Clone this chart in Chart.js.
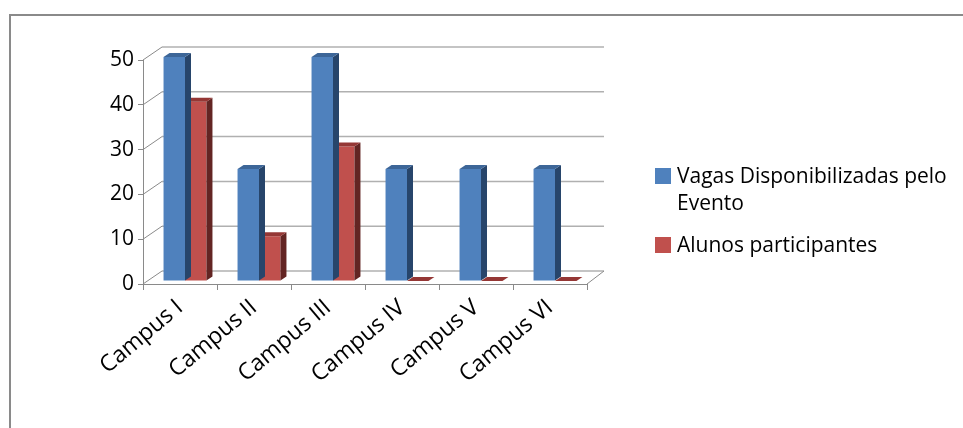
<!DOCTYPE html>
<html>
<head>
<meta charset="utf-8">
<script src="https://cdn.jsdelivr.net/npm/chart.js@4.4.1/dist/chart.umd.min.js"></script>
<style>
    html, body { margin: 0; padding: 0; background: #fff; overflow: hidden; }
    #wrap { position: relative; width: 963px; height: 428px; }
    #legend { position: absolute; left: 655px; top: 162px; font-family: 'Open Sans', sans-serif; font-size: 21px; line-height: 27px; color: #000; }
    .item { position: relative; padding-left: 22px; width: 290px; margin-bottom: 15px; }
    .box { position: absolute; left: 0; top: 6px; width: 16px; height: 16px; }
</style>
</head>
<body>
<div id="wrap">
    <canvas id="barChart" width="963" height="428"></canvas>
    <div id="legend"></div>
</div>
<script>
    var campus = ['Campus I', 'Campus II', 'Campus III', 'Campus IV', 'Campus V', 'Campus VI'];
    var vagas = [50, 25, 50, 25, 25, 25];
    var alunos = [40, 10, 30, 0, 0, 0];
    var yTicks = [0, 10, 20, 30, 40, 50];

    var frontColors = ['#4f81bd', '#c0504d'];
    var sideColors = ['#27456b', '#632523'];
    var topColors = ['#3d6698', '#953735'];

    var shift = {x: 5, y: -3};   // bars stand a little behind the front plane
    var depth = {x: 6, y: -4};   // depth of each bar
    var wall = {x: 19, y: -13};  // back wall offset

    Chart.defaults.font.family = "'Open Sans', sans-serif";
    Chart.defaults.color = '#000';

    // fake 3D: back wall grid, side and top faces of the bars
    var threeD = {
        id: 'threeD',
        beforeDraw: function(chart) {
            var ctx = chart.ctx;
            ctx.save();
            ctx.strokeStyle = '#8a8a8a';
            ctx.lineWidth = 2;
            ctx.beginPath();
            ctx.moveTo(10, 428);
            ctx.lineTo(10, 15);
            ctx.lineTo(963, 15);
            ctx.stroke();
            ctx.restore();
        },
        beforeDatasetsDraw: function(chart) {
            var ctx = chart.ctx, a = chart.chartArea, y = chart.scales.y;
            ctx.save();
            ctx.strokeStyle = '#b0b0b0';
            ctx.lineWidth = 1.5;
            yTicks.forEach(function(v) {
                var py = y.getPixelForValue(v);
                ctx.beginPath();
                ctx.moveTo(a.left + wall.x, py + wall.y);
                ctx.lineTo(a.right + wall.x - 2, py + wall.y);
                ctx.stroke();
            });
            ctx.strokeStyle = '#8a8a8a';
            ctx.lineWidth = 1;
            yTicks.forEach(function(v) {
                var py = y.getPixelForValue(v);
                ctx.beginPath();
                ctx.moveTo(a.left, py);
                ctx.lineTo(a.left + wall.x, py + wall.y);
                ctx.stroke();
            });
            ctx.beginPath();
            ctx.moveTo(a.right, a.bottom);
            ctx.lineTo(a.right + wall.x - 2, a.bottom + wall.y);
            ctx.stroke();
            ctx.restore();
        },
        beforeDatasetDraw: function(chart) {
            chart.ctx.save();
            chart.ctx.translate(shift.x, shift.y);
        },
        afterDatasetDraw: function(chart, args) {
            var ctx = chart.ctx, i = args.index;
            args.meta.data.forEach(function(bar) {
                var p = bar.getProps(['x', 'y', 'base', 'width'], true);
                var l = p.x - p.width / 2, r = p.x + p.width / 2;
                ctx.fillStyle = sideColors[i];
                ctx.beginPath();
                ctx.moveTo(r, p.y);
                ctx.lineTo(r + depth.x, p.y + depth.y);
                ctx.lineTo(r + depth.x, p.base + depth.y);
                ctx.lineTo(r, p.base);
                ctx.closePath();
                ctx.fill();
                ctx.fillStyle = topColors[i];
                ctx.beginPath();
                ctx.moveTo(l, p.y);
                ctx.lineTo(l + depth.x, p.y + depth.y);
                ctx.lineTo(r + depth.x, p.y + depth.y);
                ctx.lineTo(r, p.y);
                ctx.closePath();
                ctx.fill();
            });
            ctx.restore();
        }
    };

    // legend as html so the long label wraps like the original
    var htmlLegend = {
        id: 'htmlLegend',
        afterUpdate: function(chart) {
            var box = document.getElementById('legend');
            box.innerHTML = '';
            chart.data.datasets.forEach(function(ds) {
                var item = document.createElement('div');
                item.className = 'item';
                var sq = document.createElement('span');
                sq.className = 'box';
                sq.style.background = ds.backgroundColor;
                item.appendChild(sq);
                item.appendChild(document.createTextNode(ds.label));
                box.appendChild(item);
            });
        }
    };

    var barChart = new Chart(document.getElementById('barChart'), {
        type: 'bar',
        data: {
            labels: campus,
            datasets: [{
                label: 'Vagas Disponibilizadas pelo Evento',
                data: vagas,
                backgroundColor: frontColors[0],
                clip: false
            }, {
                label: 'Alunos participantes',
                data: alunos,
                backgroundColor: frontColors[1],
                clip: false
            }]
        },
        options: {
            responsive: false,
            animation: false,
            devicePixelRatio: 1,
            categoryPercentage: 0.58,
            barPercentage: 1,
            layout: {
                padding: {top: 60, right: 376, left: 0, bottom: 0}
            },
            plugins: {
                legend: {display: false},
                tooltip: {enabled: false}
            },
            scales: {
                y: {
                    min: 0,
                    max: 50,
                    afterFit: function(scale) { scale.width = 143; },
                    border: {color: '#8a8a8a'},
                    grid: {drawOnChartArea: false, tickLength: 5, color: '#8a8a8a'},
                    ticks: {
                        stepSize: 10,
                        padding: 4,
                        font: {size: 21}
                    }
                },
                x: {
                    afterFit: function(scale) { scale.height = 144; },
                    border: {color: '#8a8a8a'},
                    grid: {drawOnChartArea: false, tickLength: 6, color: '#8a8a8a'},
                    ticks: {
                        minRotation: 40,
                        maxRotation: 40,
                        autoSkip: false,
                        padding: 4,
                        font: {size: 23}
                    }
                }
            }
        },
        plugins: [threeD, htmlLegend]
    });
</script>
</body>
</html>
